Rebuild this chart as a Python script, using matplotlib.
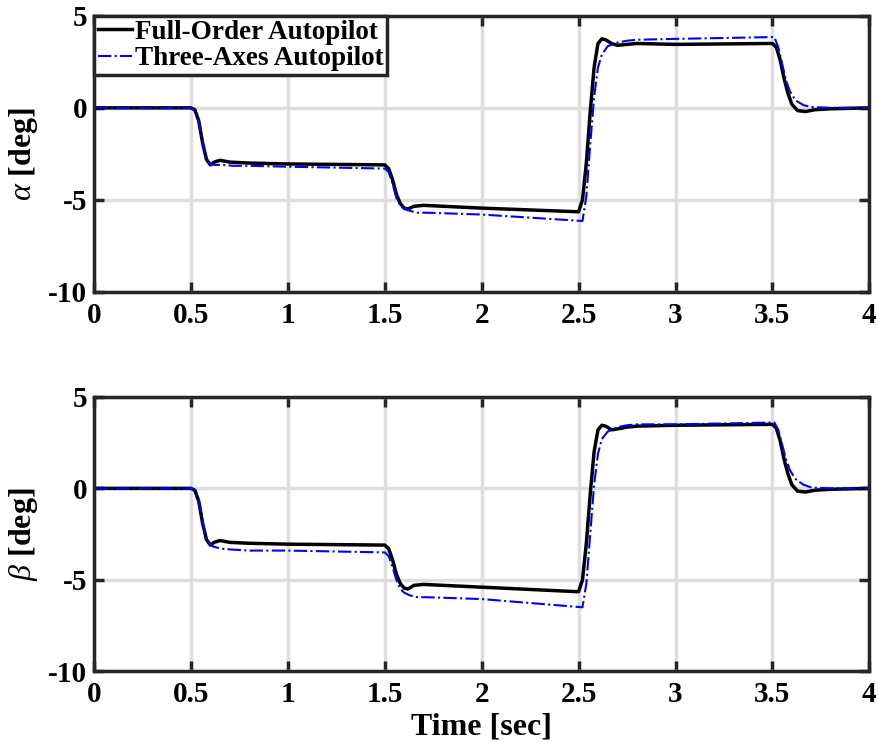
import numpy as np
import matplotlib
matplotlib.use('Agg')
import matplotlib.pyplot as plt

plt.rcParams['font.family'] = ['Liberation Serif', 'DejaVu Serif']
plt.rcParams['font.weight'] = 'bold'
plt.rcParams['mathtext.fontset'] = 'custom'
plt.rcParams['mathtext.it'] = 'Liberation Serif:italic:normal'
plt.rcParams['mathtext.rm'] = 'Liberation Serif'
plt.rcParams['axes.unicode_minus'] = False

# alpha response, full-order autopilot
t_a_full = [0, 0.50, 0.52, 0.54, 0.56, 0.58, 0.60, 0.62, 0.65, 0.70, 0.80, 1.00, 1.50,
            1.52, 1.54, 1.56, 1.58, 1.60, 1.62, 1.65, 1.70, 1.80, 2.00, 2.50,
            2.52, 2.54, 2.56, 2.58, 2.60, 2.62, 2.64, 2.67, 2.70, 2.75, 2.80, 3.00, 3.50,
            3.52, 3.54, 3.56, 3.58, 3.60, 3.63, 3.67, 3.72, 3.80, 4.00]
a_full = [0, 0, -0.1, -0.7, -1.9, -2.8, -3.1, -2.95, -2.85, -2.95, -3.0, -3.05, -3.1,
          -3.3, -3.9, -4.7, -5.2, -5.45, -5.5, -5.35, -5.3, -5.35, -5.45, -5.65,
          -5.0, -3.0, -0.2, 2.2, 3.5, 3.75, 3.7, 3.5, 3.4, 3.45, 3.5, 3.45, 3.5,
          3.3, 2.6, 1.6, 0.8, 0.2, -0.15, -0.2, -0.1, -0.05, 0]

# alpha response, three-axes autopilot
t_a_three = [0, 0.50, 0.52, 0.54, 0.56, 0.58, 0.60, 0.62, 0.66, 0.72, 0.80, 1.00, 1.50,
             1.52, 1.54, 1.56, 1.58, 1.60, 1.63, 1.67, 1.72, 2.00, 2.52,
             2.54, 2.56, 2.58, 2.60, 2.62, 2.65, 2.70, 2.75, 2.80, 3.00, 3.51,
             3.53, 3.55, 3.57, 3.59, 3.62, 3.66, 3.70, 3.80, 4.00]
a_three = [0, 0, -0.1, -0.7, -1.9, -2.8, -3.05, -3.1, -3.1, -3.15, -3.15, -3.2, -3.3,
           -3.5, -4.1, -4.9, -5.3, -5.5, -5.6, -5.7, -5.7, -5.8, -6.15,
           -4.8, -2.0, 0.6, 2.2, 2.9, 3.35, 3.55, 3.65, 3.7, 3.75, 3.85,
           3.3, 2.4, 1.5, 0.9, 0.4, 0.15, 0.05, 0, 0]

# beta response, full-order autopilot
t_b_full = [0, 0.50, 0.52, 0.54, 0.56, 0.58, 0.60, 0.62, 0.65, 0.70, 0.80, 1.00, 1.50,
            1.52, 1.54, 1.56, 1.58, 1.60, 1.62, 1.65, 1.70, 1.80, 2.00, 2.50,
            2.52, 2.54, 2.56, 2.58, 2.60, 2.62, 2.64, 2.67, 2.70, 2.75, 2.80, 3.00, 3.50,
            3.52, 3.54, 3.56, 3.58, 3.60, 3.63, 3.67, 3.72, 3.80, 4.00]
b_full = [0, 0, -0.1, -0.7, -1.9, -2.8, -3.1, -2.95, -2.85, -2.95, -3.0, -3.05, -3.1,
          -3.3, -3.9, -4.7, -5.2, -5.45, -5.5, -5.3, -5.25, -5.3, -5.4, -5.65,
          -5.0, -3.0, -0.3, 2.0, 3.2, 3.45, 3.4, 3.2, 3.25, 3.35, 3.4, 3.45, 3.5,
          3.3, 2.6, 1.6, 0.8, 0.2, -0.15, -0.2, -0.1, -0.05, 0]

# beta response, three-axes autopilot
t_b_three = [0, 0.50, 0.52, 0.54, 0.56, 0.58, 0.60, 0.62, 0.66, 0.72, 0.80, 1.00, 1.50,
             1.52, 1.54, 1.56, 1.58, 1.60, 1.63, 1.67, 1.72, 2.00, 2.52,
             2.54, 2.56, 2.58, 2.60, 2.62, 2.65, 2.70, 2.75, 2.80, 3.00, 3.51,
             3.53, 3.55, 3.57, 3.59, 3.62, 3.66, 3.70, 3.80, 4.00]
b_three = [0, 0, -0.1, -0.7, -1.9, -2.8, -3.1, -3.2, -3.3, -3.35, -3.4, -3.4, -3.5,
           -3.7, -4.3, -5.0, -5.5, -5.7, -5.85, -5.95, -5.95, -6.05, -6.5,
           -5.2, -2.5, 0.2, 1.9, 2.7, 3.1, 3.35, 3.45, 3.5, 3.5, 3.6,
           3.2, 2.4, 1.6, 1.0, 0.5, 0.2, 0.05, 0, 0]

xticks = [0, 0.5, 1, 1.5, 2, 2.5, 3, 3.5, 4]
xticklabels = ['0', '0.5', '1', '1.5', '2', '2.5', '3', '3.5', '4']
yticks = [-10, -5, 0, 5]

fig = plt.figure(figsize=(8.79, 7.56), dpi=100)
ax1 = fig.add_axes([0.107, 0.614, 0.882, 0.365])
ax2 = fig.add_axes([0.107, 0.112, 0.882, 0.363])


def style_axes(ax, ylabel):
    ax.set_xlim(0, 4)
    ax.set_ylim(-10, 5)
    ax.set_xticks(xticks)
    ax.set_xticklabels(xticklabels)
    ax.set_yticks(yticks)
    ax.grid(True, color='#dedede', linewidth=2.5)
    ax.set_axisbelow(True)
    for s in ax.spines.values():
        s.set_linewidth(2.5)
        s.set_color('#262626')
    ax.tick_params(direction='in', length=7, width=2.5, color='#262626',
                   labelsize=21, top=True, right=True)
    ax.tick_params(axis='x', pad=7)
    ax.tick_params(axis='y', pad=5)
    for lab in ax.get_xticklabels() + ax.get_yticklabels():
        lab.set_fontweight('bold')
    ax.set_ylabel(ylabel, fontsize=23, fontweight='bold', labelpad=6)


ax1.plot(t_a_full, a_full, color='black', linewidth=2.5, label='Full-Order Autopilot')
ax1.plot(t_a_three, a_three, color='blue', linewidth=1.5, linestyle='-.',
         label='Three-Axes Autopilot')
style_axes(ax1, r'$\alpha$ [deg]')

leg = ax1.legend(loc='upper left', handlelength=1.25, handletextpad=0.1,
                 borderpad=0.15, borderaxespad=0, labelspacing=0.05, fancybox=False,
                 framealpha=1, edgecolor='#262626', prop={'weight': 'bold', 'size': 19.5})
leg.get_frame().set_linewidth(2.5)

ax2.plot(t_b_full, b_full, color='black', linewidth=2.5)
ax2.plot(t_b_three, b_three, color='blue', linewidth=1.5, linestyle='-.')
style_axes(ax2, r'$\beta$ [deg]')
ax2.set_xlabel('Time [sec]', fontsize=23, fontweight='bold', labelpad=3)

fig.savefig('out.png', dpi=100)
